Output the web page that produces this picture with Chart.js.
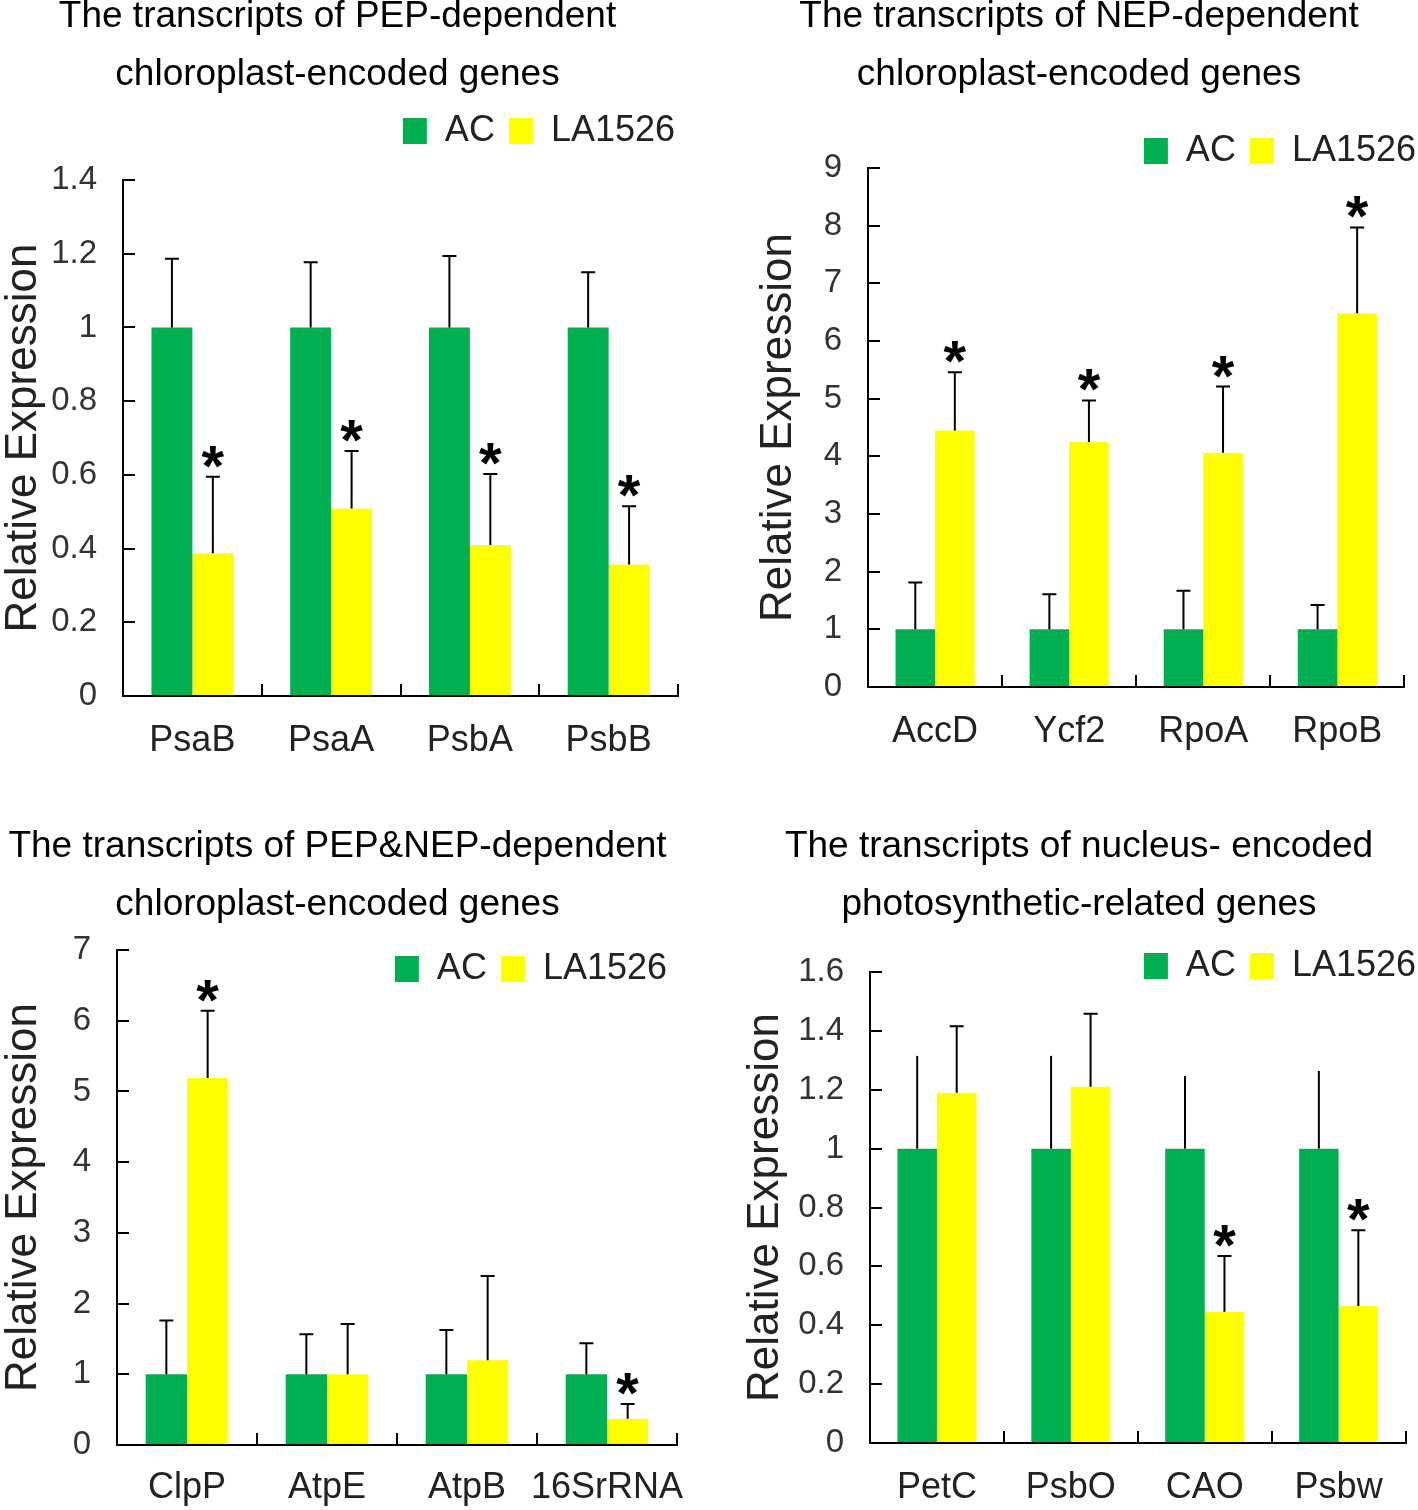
<!DOCTYPE html>
<html><head><meta charset="utf-8">
<script src="https://cdn.jsdelivr.net/npm/chart.js@4.4.1/dist/chart.umd.min.js"></script>
<style>
html,body{margin:0;padding:0;background:#fff;}
body{width:1418px;height:1510px;position:relative;overflow:hidden;}
canvas{position:absolute;left:0;top:0;}
</style></head><body>
<canvas id="c1" width="1418" height="1510"></canvas>
<canvas id="c2" width="1418" height="1510"></canvas>
<canvas id="c3" width="1418" height="1510"></canvas>
<canvas id="c4" width="1418" height="1510"></canvas>
<script>
// ---------------- DATA ----------------
const seriesNames = ['AC', 'LA1526'];
const yAxisTitle = 'Relative Expression';

const pepTitle = ['The transcripts of PEP-dependent', 'chloroplast-encoded genes'];
const pepGenes = ['PsaB', 'PsaA', 'PsbA', 'PsbB'];
const pepAC = [1, 1, 1, 1];
const pepACErr = [0.186, 0.177, 0.194, 0.15];
const pepLA = [0.387, 0.509, 0.41, 0.357];
const pepLAErr = [0.208, 0.156, 0.192, 0.158];
const pepSig = [true, true, true, true];

const nepTitle = ['The transcripts of NEP-dependent', 'chloroplast-encoded genes'];
const nepGenes = ['AccD', 'Ycf2', 'RpoA', 'RpoB'];
const nepAC = [1, 1, 1, 1];
const nepACErr = [0.81, 0.61, 0.67, 0.42];
const nepLA = [4.45, 4.25, 4.06, 6.48];
const nepLAErr = [1.01, 0.72, 1.15, 1.49];
const nepSig = [true, true, true, true];

const bothTitle = ['The transcripts of PEP&NEP-dependent', 'chloroplast-encoded genes'];
const bothGenes = ['ClpP', 'AtpE', 'AtpB', '16SrRNA'];
const bothAC = [1, 1, 1, 1];
const bothACErr = [0.76, 0.565, 0.626, 0.44];
const bothLA = [5.19, 1.0, 1.2, 0.37];
const bothLAErr = [0.95, 0.71, 1.19, 0.21];
const bothSig = [true, false, false, true];

const nucTitle = ['The transcripts of nucleus- encoded', 'photosynthetic-related genes'];
const nucGenes = ['PetC', 'PsbO', 'CAO', 'Psbw'];
const nucAC = [1, 1, 1, 1];
const nucACErr = [0.315, 0.315, 0.247, 0.264];
const nucLA = [1.19, 1.21, 0.446, 0.465];
const nucLAErr = [0.226, 0.248, 0.189, 0.258];
const nucSig = [false, false, true, true];

const yMaxes = [1.4, 9, 7, 1.6];
const ySteps = [0.2, 1, 1, 0.2];

// ---------------- STYLE / LAYOUT ----------------
const W = 1418, H = 1510;
const GREEN = '#00B050', YELLOW = '#FFFF00';
const FONT = '"Liberation Sans", Arial, sans-serif';
const TITLE_SIZE = 37, TITLE_LH = 58;
const LEG_SIZE = 36, LEG_PAD = 14;
const YT_SIZE = 44;

const layouts = [
  {left:123, right:678, top:180, bottom:696, titleX:337.5, titleY:17, legendRight:675, legendY:131, yTitleX:24, acCap:true, xPad:35},
  {left:868, right:1413, top:168, bottom:687, titleX:1079, titleY:17, legendRight:1416, legendY:151, yTitleX:779, acCap:true, xPad:35},
  {left:117, right:677, top:950, bottom:1445, titleX:337.5, titleY:847, legendRight:667, legendY:969, yTitleX:24, acCap:true, xPad:33},
  {left:870, right:1415, top:972, bottom:1443, titleX:1079, titleY:847, legendRight:1416, legendY:966, yTitleX:766, acCap:false, xPad:35}
];

const placer = {
  id: 'place',
  afterLayout(chart, args, o) {
    const t = chart.titleBlock, lg = chart.legend;
    if (t) {
      t.left = o.titleX - 500; t.right = o.titleX + 500; t.width = 1000;
      t.top = o.titleY - TITLE_LH / 2; t.bottom = t.top + t.height;
    }
    if (lg) {
      const w = lg.width;
      lg.right = o.legendRight + LEG_PAD; lg.left = lg.right - w;
      lg.top = o.legendY - LEG_PAD - LEG_SIZE / 2; lg.bottom = lg.top + lg.height;
    }
  }
};

const errorBars = {
  id: 'errbars',
  afterDatasetsDraw(chart) {
    const ctx = chart.ctx, ys = chart.scales.y;
    chart.data.datasets.forEach((ds, di) => {
      const meta = chart.getDatasetMeta(di);
      meta.data.forEach((bar, i) => {
        const v = ds.data[i], e = ds.errors[i];
        const yTop = ys.getPixelForValue(v + e);
        ctx.save();
        ctx.strokeStyle = '#000'; ctx.lineWidth = 2;
        ctx.beginPath();
        ctx.moveTo(bar.x, bar.y); ctx.lineTo(bar.x, yTop);
        if (ds.cap) { ctx.moveTo(bar.x - 7, yTop); ctx.lineTo(bar.x + 7, yTop); }
        ctx.stroke();
        if (ds.sig && ds.sig[i]) {
          ctx.fillStyle = '#000';
          ctx.font = 'bold 58px ' + FONT;
          ctx.textAlign = 'center'; ctx.textBaseline = 'alphabetic';
          ctx.fillText('*', bar.x, yTop + 9);
        }
        ctx.restore();
      });
    });
  }
};

function build(id, title, labels, ac, acErr, la, laErr, sig, yMax, yStep, L) {
  const padLeft = L.yTitleX - YT_SIZE / 2;
  const cfg = {
    type: 'bar',
    data: {
      labels: labels,
      datasets: [
        {label: seriesNames[0], data: ac, backgroundColor: GREEN, borderWidth: 0, errors: acErr, cap: L.acCap, sig: null},
        {label: seriesNames[1], data: la, backgroundColor: YELLOW, borderWidth: 0, errors: laErr, cap: true, sig: sig}
      ]
    },
    options: {
      responsive: false, animation: false,
      layout: {padding: {left: padLeft, right: W - L.right, top: 0, bottom: 0}},
      datasets: {bar: {categoryPercentage: 0.59, barPercentage: 1}},
      plugins: {
        title: {display: true, text: title, color: '#000', padding: {top: 0, bottom: 0},
          font: {family: FONT, size: TITLE_SIZE, weight: 'normal', lineHeight: TITLE_LH / TITLE_SIZE}},
        legend: {display: true, position: 'top', align: 'end',
          labels: {boxWidth: 24, boxHeight: 26, padding: LEG_PAD, color: '#222', font: {family: FONT, size: LEG_SIZE}}},
        tooltip: {enabled: false},
        place: {titleX: L.titleX, titleY: L.titleY, legendRight: L.legendRight, legendY: L.legendY}
      },
      scales: {
        x: {
          grid: {display: true, drawOnChartArea: false, drawTicks: true, tickLength: -12, lineWidth: 2, color: '#000', offset: true},
          border: {display: true, color: '#000', width: 2},
          ticks: {font: {family: FONT, size: 36}, color: '#222', padding: L.xPad, maxRotation: 0, autoSkip: false},
          afterFit: (s) => { s.height = H - L.bottom; }
        },
        y: {
          min: 0, max: yMax,
          ticks: {stepSize: yStep, font: {family: FONT, size: 33}, color: '#333', padding: 38,
            callback: (v) => String(Math.round(v * 10) / 10)},
          grid: {display: true, drawOnChartArea: false, drawTicks: true, tickLength: -12, lineWidth: 2, color: '#000'},
          border: {display: true, color: '#000', width: 2},
          title: {display: true, text: yAxisTitle, color: '#222', padding: 0, font: {family: FONT, size: YT_SIZE, lineHeight: 1}},
          afterFit: (s) => { s.width = L.left - padLeft; }
        }
      }
    },
    plugins: [placer, errorBars]
  };
  const chart = new Chart(document.getElementById(id), cfg);
  for (let k = 0; k < 3; k++) {
    const d = L.top - chart.chartArea.top;
    if (Math.abs(d) < 0.5) break;
    cfg.options.layout.padding.top += d;
    chart.update('none');
  }
  return chart;
}

build('c1', pepTitle, pepGenes, pepAC, pepACErr, pepLA, pepLAErr, pepSig, yMaxes[0], ySteps[0], layouts[0]);
build('c2', nepTitle, nepGenes, nepAC, nepACErr, nepLA, nepLAErr, nepSig, yMaxes[1], ySteps[1], layouts[1]);
build('c3', bothTitle, bothGenes, bothAC, bothACErr, bothLA, bothLAErr, bothSig, yMaxes[2], ySteps[2], layouts[2]);
build('c4', nucTitle, nucGenes, nucAC, nucACErr, nucLA, nucLAErr, nucSig, yMaxes[3], ySteps[3], layouts[3]);
</script>
</body></html>
